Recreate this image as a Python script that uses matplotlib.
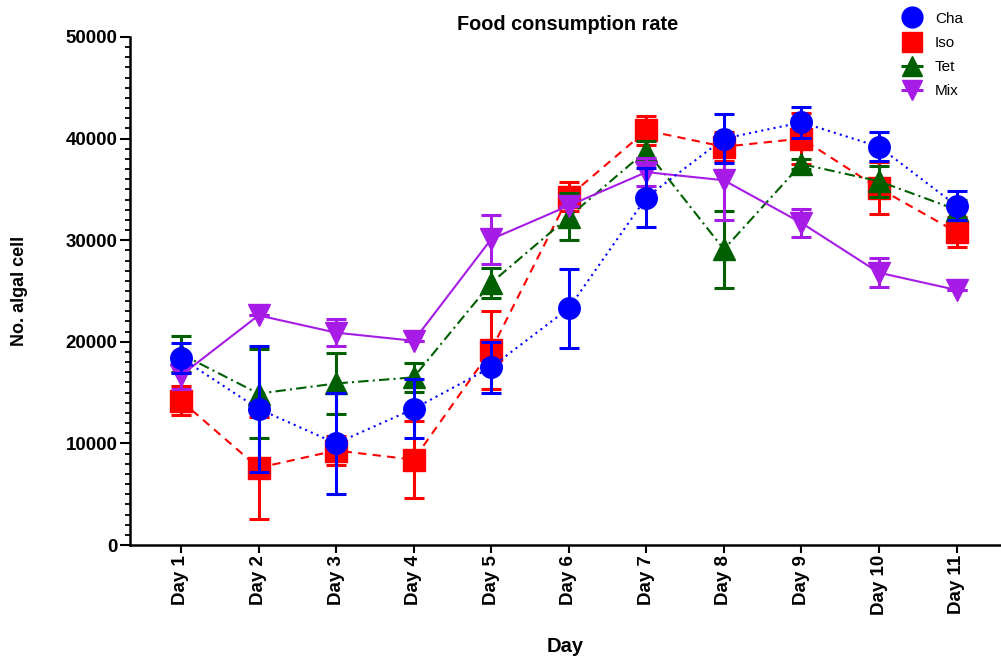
import matplotlib
matplotlib.use("Agg")
import matplotlib.pyplot as plt
from matplotlib.lines import Line2D
import numpy as np

plt.rcParams['font.family'] = ['Liberation Sans', 'DejaVu Sans']

days = ["Day 1", "Day 2", "Day 3", "Day 4", "Day 5", "Day 6", "Day 7", "Day 8", "Day 9", "Day 10", "Day 11"]

cha = [18400, 13400, 10000, 13400, 17500, 23300, 34200, 40000, 41600, 39200, 33400]
cha_err = [1500, 6200, 5000, 2900, 2500, 3900, 2900, 2450, 1500, 1450, 1400]

iso = [14200, 7600, 9300, 8400, 19200, 34300, 40800, 39200, 40000, 35100, 30800]
iso_err = [1450, 5000, 1450, 3800, 3800, 1450, 1400, 1450, 2500, 2550, 1450]

tet = [18800, 14900, 15900, 16500, 25800, 32300, 38800, 29100, 37500, 35800, 33000]
tet_err = [1800, 4400, 3000, 1400, 1450, 2300, 1000, 3800, 500, 1500, 1000]

mix = [16700, 22600, 20900, 20100, 30100, 33400, 36700, 35900, 31700, 26800, 25100]
mix_err = [1300, 0, 1300, 0, 2400, 0, 1400, 3900, 1400, 1450, 0]

x = np.arange(1, len(days) + 1)

fig = plt.figure(figsize=(10.01, 6.56), dpi=100)
ax = fig.add_axes([130/1001, 111/656, 870/1001, 508/656])

series = [
    ("Iso", iso, iso_err, '#FF0000', 's', (0, (4, 3)), 2),
    ("Tet", tet, tet_err, '#005F00', '^', (0, (5, 2, 1, 2)), 3),
    ("Mix", mix, mix_err, '#A61CE6', 'v', '-', 4),
    ("Cha", cha, cha_err, '#0000FF', 'o', (0, (1, 2)), 5),
]
colors = {}
markers = {}
for name, vals, err, col, mk, ls, z in series:
    ax.errorbar(x, vals, yerr=err, color=col, marker=mk, markersize=15.5,
                linestyle=ls, linewidth=1.5, elinewidth=2.2, capsize=7.5,
                capthick=2.2, zorder=z)
    colors[name] = col
    markers[name] = mk

ax.set_xlim(0.343, 11.56)
ax.set_ylim(0, 50000)
ax.set_yticks(np.arange(0, 50001, 10000))
ax.set_yticks(np.arange(0, 50001, 1000), minor=True)
ax.set_xticks(x)
ax.set_xticklabels(days, rotation=90, fontsize=13.5, fontweight='bold')
for lab in ax.get_yticklabels():
    lab.set_fontweight('bold')
    lab.set_fontsize(13.5)
ax.tick_params(axis='y', which='major', direction='out', length=7, width=1.5, pad=2)
ax.tick_params(axis='x', which='major', direction='out', length=5.5, width=1.5, pad=1.5)
ax.tick_params(axis='y', which='minor', direction='out', length=3.5, width=1.3)
ax.spines['top'].set_visible(False)
ax.spines['right'].set_visible(False)
ax.spines['left'].set_linewidth(1.8)
ax.spines['bottom'].set_linewidth(1.8)

ax.set_xlabel("Day", fontsize=14.5, fontweight='bold')
ax.xaxis.set_label_coords(0.5, -0.181)
ax.set_ylabel("No. algal cell", fontsize=13, fontweight='bold')
ax.yaxis.set_label_coords(-0.117, 0.5)
fig.text(568/1001, 1 - 24/656, "Food consumption rate", ha='center', va='center',
         fontsize=14.3, fontweight='bold')

order = ["Cha", "Iso", "Tet", "Mix"]
hs = []
for n in order:
    m = Line2D([], [], color=colors[n], marker=markers[n], markersize=15, linestyle='none')
    if n in ("Tet", "Mix"):
        bar = Line2D([], [], color=colors[n], marker='_', markersize=16,
                     markeredgewidth=2.2, linestyle='none')
        hs.append((m, bar))
    else:
        hs.append(m)
fig.legend(hs, order, loc='upper left',
           bbox_to_anchor=(892/1001, 1 - 1/656), frameon=False, fontsize=11,
           handlelength=1.2, handletextpad=0.9, labelspacing=0.67, borderpad=0.2)

fig.savefig("out.png", dpi=100)
